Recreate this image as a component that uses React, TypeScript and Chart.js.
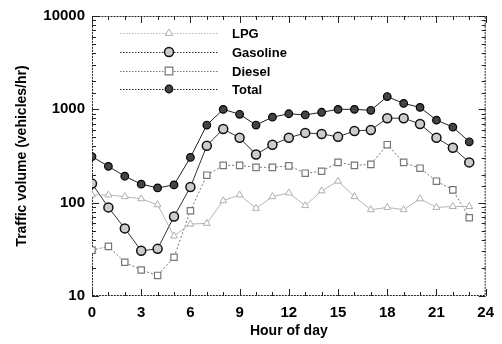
import React, { useEffect, useRef } from 'react';
import { Chart, registerables } from 'chart.js';
Chart.register(...registerables);

const hours = [0, 1, 2, 3, 4, 5, 6, 7, 8, 9, 10, 11, 12, 13, 14, 15, 16, 17, 18, 19, 20, 21, 22, 23];
const lpg = [121, 121, 116, 110, 95, 44, 59, 60, 105, 121, 87, 116, 127, 93, 134, 170, 116, 84, 89, 84, 110, 89, 91, 91];
const gasoline = [160, 89, 53, 30.5, 32, 71, 147, 408, 616, 495, 328, 418, 495, 559, 545, 507, 587, 600, 804, 804, 695, 495, 388, 270];
const diesel = [31, 34, 23, 19, 16.6, 26, 82, 197, 251, 251, 239, 239, 248, 207, 217, 270, 251, 257, 418, 270, 234, 170, 137, 69];
const total = [312, 245, 192, 158, 144, 155, 305, 679, 1000, 885, 679, 824, 897, 871, 930, 1000, 1000, 976, 1370, 1156, 1050, 766, 646, 449];
const seriesNames = ['LPG', 'Gasoline', 'Diesel', 'Total'];
const yLabels = [10, 100, 1000, 10000];
const xLabelStep = 3;

const FONT = 'Liberation Sans, Arial, sans-serif';

function drawMarker(ctx: CanvasRenderingContext2D, style: string, x: number, y: number, r: number, fill: string, stroke: string, lw: number) {
  ctx.save();
  ctx.setLineDash([]);
  ctx.beginPath();
  if (style === 'circle') {
    ctx.arc(x, y, r, 0, Math.PI * 2);
  } else if (style === 'rect') {
    ctx.rect(x - r * 0.85, y - r * 0.85, r * 1.7, r * 1.7);
  } else if (style === 'triangle') {
    ctx.moveTo(x, y - r);
    ctx.lineTo(x + r * 0.95, y + r * 0.6);
    ctx.lineTo(x - r * 0.95, y + r * 0.6);
    ctx.closePath();
  }
  ctx.fillStyle = fill;
  ctx.fill();
  ctx.lineWidth = lw;
  ctx.strokeStyle = stroke;
  ctx.stroke();
  ctx.restore();
}

const framePlugin = {
  id: 'frameTicks',
  beforeDatasetsDraw(chart: any) {
    const { ctx, chartArea: a, scales } = chart;
    ctx.save();
    ctx.strokeStyle = '#222';
    ctx.lineWidth = 1;
    ctx.setLineDash([2, 1]);
    ctx.strokeRect(a.left + 0.5, a.top + 0.5, a.right - a.left - 1, a.bottom - a.top - 1);
    ctx.setLineDash([]);
    ctx.beginPath();
    const ys = scales.y;
    for (const t of ys.ticks) {
      const v = t.value;
      const py = Math.round(ys.getPixelForValue(v)) + 0.5;
      const len = yLabels.includes(v) ? 7 : 4;
      ctx.moveTo(a.left, py);
      ctx.lineTo(a.left + len, py);
      ctx.moveTo(a.right, py);
      ctx.lineTo(a.right - len, py);
    }
    const xs = scales.x;
    for (let h = 0; h <= 24; h++) {
      const px = Math.round(xs.getPixelForValue(h)) + 0.5;
      const len = h % xLabelStep === 0 ? 7 : 4;
      ctx.moveTo(px, a.bottom);
      ctx.lineTo(px, a.bottom - len);
      ctx.moveTo(px, a.top);
      ctx.lineTo(px, a.top + len);
    }
    ctx.stroke();
    ctx.restore();
  },
};

const legendPlugin = {
  id: 'customLegend',
  afterDraw(chart: any) {
    const { ctx } = chart;
    const rows = [33, 52, 71, 89];
    chart.data.datasets.forEach((ds: any, i: number) => {
      const y = rows[i];
      ctx.save();
      ctx.strokeStyle = ds.borderColor;
      ctx.lineWidth = 1;
      ctx.setLineDash([1.5, 1.5]);
      ctx.beginPath();
      ctx.moveTo(120, y + 0.5);
      ctx.lineTo(218, y + 0.5);
      ctx.stroke();
      ctx.restore();
      drawMarker(ctx, ds.pointStyle, 169, y, ds.pointRadius, ds.pointBackgroundColor, ds.pointBorderColor, ds.pointBorderWidth);
      ctx.save();
      ctx.fillStyle = '#000';
      ctx.font = `bold 13px ${FONT}`;
      ctx.textBaseline = 'middle';
      ctx.textAlign = 'left';
      ctx.fillText(ds.label, 232, y + 1);
      ctx.restore();
    });
  },
};

export default function App() {
  const ref = useRef<HTMLCanvasElement>(null);
  useEffect(() => {
    if (!ref.current) return;
    const mk = (vals: number[]) => hours.map((h, i) => ({ x: h, y: vals[i] }));
    const chart = new Chart(ref.current, {
      type: 'line',
      data: {
        datasets: [
          {
            label: seriesNames[0], data: mk(lpg), borderColor: '#b5b5b5', borderWidth: 1,
            pointStyle: 'triangle', pointRadius: 4, pointBackgroundColor: '#fff', pointBorderColor: '#b0b0b0', pointBorderWidth: 1,
          },
          {
            label: seriesNames[1], data: mk(gasoline), borderColor: '#333', borderWidth: 1,
            pointStyle: 'circle', pointRadius: 4.5, pointBackgroundColor: '#ccc', pointBorderColor: '#111', pointBorderWidth: 1.5,
          },
          {
            label: seriesNames[2], data: mk(diesel), borderColor: '#777', borderWidth: 1, borderDash: [2, 2],
            pointStyle: 'rect', pointRadius: 4.5, pointBackgroundColor: '#fff', pointBorderColor: '#777', pointBorderWidth: 1.2,
          },
          {
            label: seriesNames[3], data: mk(total), borderColor: '#222', borderWidth: 1,
            pointStyle: 'circle', pointRadius: 3.8, pointBackgroundColor: '#444', pointBorderColor: '#000', pointBorderWidth: 1.2,
          },
        ] as any,
      },
      options: {
        animation: false,
        responsive: false,
        maintainAspectRatio: false,
        layout: { padding: { left: 14, right: 8, top: 11, bottom: 4 } },
        plugins: { legend: { display: false }, tooltip: { enabled: false } },
        scales: {
          x: {
            type: 'linear', min: 0, max: 24,
            grid: { display: false, drawTicks: false },
            border: { display: false },
            ticks: {
              stepSize: 1, autoSkip: false, maxRotation: 0, padding: 8, color: '#000',
              font: { family: FONT, size: 15, weight: 'bold' },
              callback: (v: any) => (Number(v) % xLabelStep === 0 ? String(v) : ''),
            },
            title: { display: true, text: 'Hour of day', color: '#000', font: { family: FONT, size: 14, weight: 'bold' }, padding: { top: 0, bottom: 0 } },
            afterFit: (s: any) => { s.height = 44; },
          },
          y: {
            type: 'logarithmic', min: 10, max: 10000,
            grid: { display: false, drawTicks: false },
            border: { display: false },
            ticks: {
              autoSkip: false, padding: 7, color: '#000',
              font: { family: FONT, size: 15, weight: 'bold' },
              callback: (v: any) => (yLabels.includes(Number(v)) ? String(v) : ''),
            },
            title: { display: true, text: 'Traffic volume (vehicles/hr)', color: '#000', font: { family: FONT, size: 14, weight: 'bold' }, padding: { top: 0, bottom: 0 } },
            afterFit: (s: any) => { s.width = 78; },
          },
        },
      } as any,
      plugins: [framePlugin, legendPlugin],
    });
    return () => chart.destroy();
  }, []);
  return (
    <div style={{ position: 'fixed', left: 0, top: 0, width: 502, height: 344, background: '#fff' }}>
      <canvas ref={ref} width={502} height={344} style={{ width: 502, height: 344 }} />
    </div>
  );
}
